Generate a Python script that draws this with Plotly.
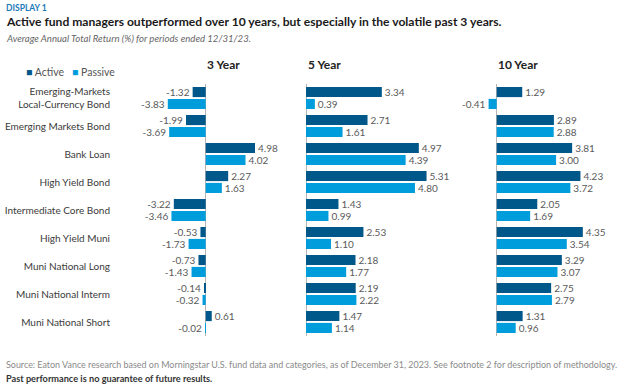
import plotly.graph_objects as go

categories = [
    "Emerging-Markets<br>Local-Currency Bond",
    "Emerging Markets Bond",
    "Bank Loan",
    "High Yield Bond",
    "Intermediate Core Bond",
    "High Yield Muni",
    "Muni National Long",
    "Muni National Interm",
    "Muni National Short",
]
periods = ["3 Year", "5 Year", "10 Year"]
active_3y = [-1.32, -1.99, 4.98, 2.27, -3.22, -0.53, -0.73, -0.14, 0.61]
passive_3y = [-3.83, -3.69, 4.02, 1.63, -3.46, -1.73, -1.43, -0.32, -0.02]
active_5y = [3.34, 2.71, 4.97, 5.31, 1.43, 2.53, 2.18, 2.19, 1.47]
passive_5y = [0.39, 1.61, 4.39, 4.80, 0.99, 1.10, 1.77, 2.22, 1.14]
active_10y = [1.29, 2.89, 3.81, 4.23, 2.05, 4.35, 3.29, 2.75, 1.31]
passive_10y = [-0.41, 2.88, 3.00, 3.72, 1.69, 3.54, 3.07, 2.79, 0.96]

W, H = 624, 391
ACTIVE = "#00578a"
PASSIVE = "#009ddc"
FONT = "Lato"

# panel geometry in px: (domain left, domain right, zero px, px per unit)
panels = [
    (150, 292, 205.7, 9.9),
    (298, 470, 306.0, 22.7),
    (470, 624, 496.7, 19.8),
]
series = [(active_3y, passive_3y), (active_5y, passive_5y), (active_10y, passive_10y)]

fig = go.Figure()
for i, ((act, pas), (l, r, z, s)) in enumerate(zip(series, panels)):
    xa = "x" if i == 0 else f"x{i+1}"
    for name, vals, col in (("Active", act, ACTIVE), ("Passive", pas, PASSIVE)):
        fig.add_trace(go.Bar(
            x=vals, y=categories, orientation="h", name=name,
            marker=dict(color=col, line=dict(width=0)),
            text=[f"{v:.2f}" for v in vals], textposition="outside",
            textfont=dict(family=FONT, size=10, color="#5a5a5a"),
            constraintext="none", cliponaxis=False,
            xaxis=xa, yaxis="y", showlegend=False, hoverinfo="skip",
        ))
    ax = dict(
        domain=[l / W, r / W], range=[(l - z) / s, (r - z) / s],
        anchor="y", showgrid=False, showticklabels=False, ticks="",
        zeroline=True, zerolinecolor="#b5b5b5", zerolinewidth=1,
        showline=False, fixedrange=True,
    )
    fig.layout["xaxis" if i == 0 else f"xaxis{i+1}"] = ax

y_top, y_bot = 84, 336
fig.update_layout(
    width=W, height=H, margin=dict(l=0, r=0, t=0, b=0),
    paper_bgcolor="white", plot_bgcolor="rgba(0,0,0,0)",
    barmode="group", bargap=0.15, bargroupgap=0.15,
    font=dict(family=FONT, color="#333333"),
    yaxis=dict(
        type="category", categoryorder="array", categoryarray=categories,
        autorange="reversed", domain=[1 - y_bot / H, 1 - y_top / H],
        anchor="free", position=110 / W, showline=False, showgrid=False,
        zeroline=False, ticks="", tickfont=dict(family=FONT, size=10, color="#3a3a3a"),
        fixedrange=True,
    ),
)

ann = []
for p, (l, r, z, s) in zip(periods, panels):
    ann.append(dict(text=f"<b>{p}</b>", x=(z - 0.5) / W, y=1 - 65 / H, xref="paper", yref="paper",
                    xanchor="left", yanchor="middle", showarrow=False,
                    font=dict(family=FONT, size=12, color="#222222")))
ann += [
    dict(text="<b>DISPLAY 1</b>", x=4 / W, y=1 - 8.5 / H, xref="paper", yref="paper",
         xanchor="left", yanchor="middle", showarrow=False,
         font=dict(family=FONT, size=8.5, color="#1a78b8")),
    dict(text="<b>Active fund managers outperformed over 10 years, but especially in the volatile past 3 years.</b>",
         x=4 / W, y=1 - 22 / H, xref="paper", yref="paper", xanchor="left", yanchor="middle",
         showarrow=False, font=dict(family=FONT, size=12.1, color="#1a1a1a")),
    dict(text="<i>Average Annual Total Return (%) for periods ended 12/31/23.</i>",
         x=4 / W, y=1 - 38 / H, xref="paper", yref="paper", xanchor="left", yanchor="middle",
         showarrow=False, font=dict(family=FONT, size=9.6, color="#666666")),
    dict(text=f"<span style='color:{ACTIVE}'>■</span> Active   <span style='color:{PASSIVE}'>■</span> Passive",
         x=24 / W, y=1 - 72 / H, xref="paper", yref="paper", xanchor="left", yanchor="middle",
         showarrow=False, font=dict(family=FONT, size=10.5, color="#555555")),
    dict(text="Source: Eaton Vance research based on Morningstar U.S. fund data and categories, as of December 31, 2023. See footnote 2 for description of methodology.",
         x=4 / W, y=1 - 364 / H, xref="paper", yref="paper", xanchor="left", yanchor="middle",
         showarrow=False, font=dict(family=FONT, size=8.95, color="#8a8a8a")),
    dict(text="<b>Past performance is no guarantee of future results.</b>",
         x=4 / W, y=1 - 378 / H, xref="paper", yref="paper", xanchor="left", yanchor="middle",
         showarrow=False, font=dict(family=FONT, size=9.2, color="#333333")),
]
fig.update_layout(annotations=ann)

fig.write_html("out.html", config={"displayModeBar": False},
               post_script="document.body.style.margin='0';")
